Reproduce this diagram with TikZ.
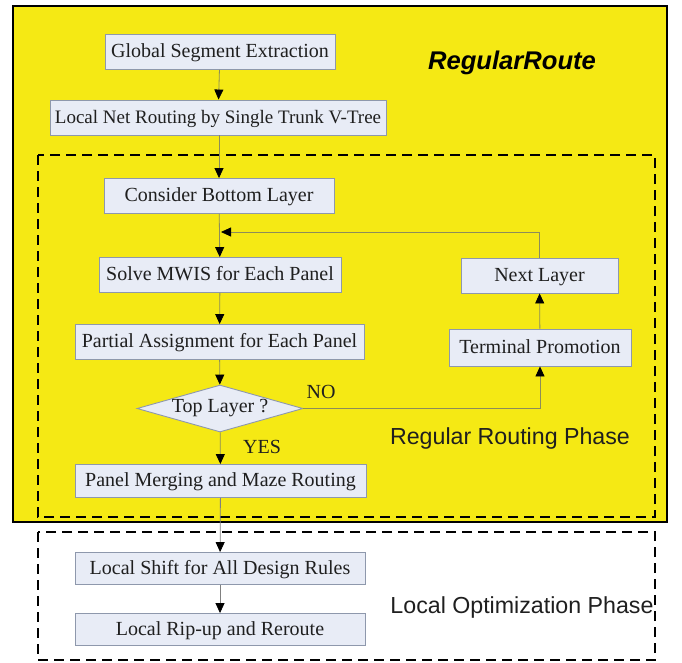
\documentclass[tikz,border=0pt]{standalone}
\usepackage{fontspec}
\setmainfont{Liberation Serif}
\setsansfont{Liberation Sans}
\usetikzlibrary{shapes.geometric,arrows.meta}
\definecolor{routeyellow}{RGB}{245,233,20}
\definecolor{boxfill}{RGB}{232,236,246}
\definecolor{boxedge}{RGB}{142,152,172}
\definecolor{wire}{RGB}{140,140,90}
\begin{document}
\begin{tikzpicture}[x=1pt,y=-1pt,
  proc/.style={draw=boxedge,fill=boxfill,line width=0.9pt,inner sep=0pt,
    minimum height=35pt,text height=15pt,text depth=4pt,
    font=\fontsize{20}{23}\selectfont,text=black!88},
  decision/.style={diamond,draw=boxedge,fill=boxfill,line width=0.9pt,inner sep=0pt,
    minimum width=166pt,minimum height=47pt,aspect=3.5,
    font=\fontsize{20}{23}\selectfont,text=black!88},
  conn/.style={draw=wire,line width=0.8pt,
    -{Triangle[length=10pt,width=9pt,color=black]}},
  phasebox/.style={draw=black,line width=1.6pt,dash pattern=on 10pt off 6pt},
  lbl/.style={font=\fontsize{20}{23}\selectfont,text=black!88},
  phase/.style={font=\sffamily\fontsize{23.2}{26}\selectfont,text=black!88}]
\useasboundingbox (0,0) rectangle (682,662);

% background panel of RegularRoute
\fill[white] (0,0) rectangle (682,662);
\draw[fill=routeyellow,line width=1.8pt] (13,6) rectangle (667,522);
\node[font=\sffamily\bfseries\itshape\fontsize{25.6}{28}\selectfont] (title) at (512,63) {RegularRoute};

% phase frames
\draw[phasebox] (38,155) rectangle (655,517);
\draw[phasebox] (38,532) rectangle (655,660);
\node[phase] (rrp) at (510,438) {Regular Routing Phase};
\node[phase] (lop) at (522,607) {Local Optimization Phase};

% flow steps
\node[proc,minimum width=230pt] (gse) at (220,52) {Global Segment Extraction};
\node[proc,minimum width=336pt,font=\fontsize{19}{22}\selectfont] (lnr) at (218,117.5) {Local Net Routing by Single Trunk V-Tree};
\node[proc,minimum width=230pt] (cbl) at (219,196) {Consider Bottom Layer};
\node[proc,minimum width=242pt] (mwis) at (220,275) {Solve MWIS for Each Panel};
\node[proc,minimum width=289pt] (pa) at (219.5,342) {Partial Assignment for Each Panel};
\node[decision] (dec) at (220,408.5) {Top Layer ?};
\node[proc,minimum width=291pt,minimum height=33pt] (pm) at (220.5,481) {Panel Merging and Maze Routing};
\node[proc,minimum width=290pt,minimum height=32pt] (ls) at (220,568.5) {Local Shift for All Design Rules};
\node[proc,minimum width=290pt,minimum height=32pt] (lr) at (220,629.5) {Local Rip-up and Reroute};
\node[proc,minimum width=157pt] (nl) at (539.5,275.5) {Next Layer};
\node[proc,minimum width=182pt,minimum height=37pt] (tp) at (540,347.5) {Terminal Promotion};

\coordinate (join) at (221,232);

% connectors
\draw[conn] (gse) -- (lnr);
\draw[conn] (lnr.south -| cbl.north) -- (cbl);
\draw[conn] (cbl) -- (mwis);
\draw[conn] (nl.north) |- (join);
\draw[conn] (mwis) -- (pa);
\draw[conn] (pa) -- (dec);
\draw[conn] (dec.east) -| (tp.south);
\draw[conn] (tp) -- (nl);
\draw[conn] (dec) -- (pm);
\draw[conn,draw=gray] (pm) -- (ls);
\draw[conn,draw=gray] (ls) -- (lr);

\node[lbl] (no) at (321,392) {NO};
\node[lbl] (yes) at (262,447) {YES};
\end{tikzpicture}
\end{document}
